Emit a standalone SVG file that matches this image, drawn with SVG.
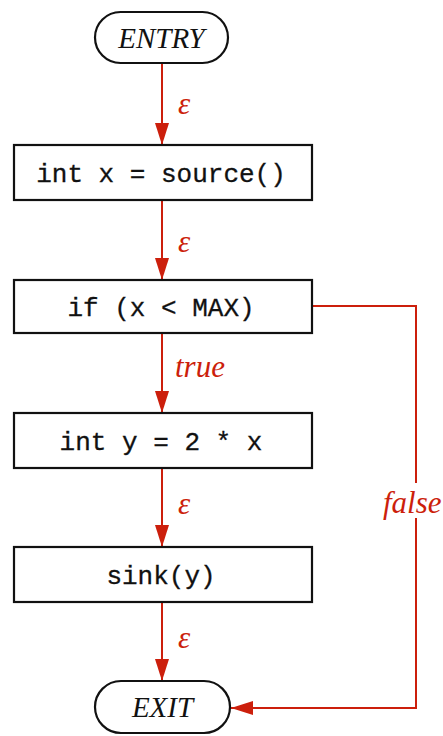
<svg xmlns="http://www.w3.org/2000/svg" width="443" height="736" viewBox="0 0 443 736">
  <style>
    .box { fill: #fff; stroke: #111; stroke-width: 2.2; }
    .code { font-family: "Liberation Mono", "Courier New", monospace; font-size: 26px; fill: #111; text-anchor: middle; stroke: #111; stroke-width: 0.3; }
    .term { font-family: "Liberation Serif", "Times New Roman", serif; font-style: italic; font-size: 29px; fill: #111; text-anchor: middle; }
    .edge { fill: none; stroke: #cc1f0c; stroke-width: 2; }
    .lbl { font-family: "Liberation Serif", "Times New Roman", serif; font-style: italic; font-size: 31px; fill: #cc1f0c; }
  </style>
  <defs>
    <marker id="arrow" viewBox="0 0 22 14" refX="22" refY="7" markerWidth="22" markerHeight="14" markerUnits="userSpaceOnUse" orient="auto">
      <path d="M0,0 L22,7 L0,14 Z" fill="#cc1f0c"/>
    </marker>
  </defs>

  <g id="connectors">
    <line class="edge" x1="162" y1="63" x2="162" y2="145" marker-end="url(#arrow)"/>
    <text class="lbl" x="178" y="114">ε</text>
    <line class="edge" x1="162" y1="200" x2="162" y2="280" marker-end="url(#arrow)"/>
    <text class="lbl" x="178" y="252">ε</text>
    <line class="edge" x1="162" y1="333" x2="162" y2="413" marker-end="url(#arrow)"/>
    <text class="lbl" x="175" y="377">true</text>
    <line class="edge" x1="162" y1="468" x2="162" y2="547" marker-end="url(#arrow)"/>
    <text class="lbl" x="178" y="514">ε</text>
    <line class="edge" x1="162" y1="602" x2="162" y2="681" marker-end="url(#arrow)"/>
    <text class="lbl" x="178" y="648">ε</text>
    <!-- false branch: around the right side to EXIT -->
    <polyline class="edge" points="312,306 416,306 416,483"/>
    <polyline class="edge" points="416,518 416,708 231,708" marker-end="url(#arrow)"/>
    <text class="lbl" x="383" y="513">false</text>
  </g>

  <g id="entry">
    <rect class="box" x="95" y="12" width="133" height="51" rx="25.5" ry="25.5"/>
    <text class="term" x="161.5" y="48">ENTRY</text>
  </g>
  <g id="n1">
    <rect class="box" x="14" y="145" width="298" height="55"/>
    <text class="code" x="161" y="182">int x = source()</text>
  </g>
  <g id="n2">
    <rect class="box" x="14" y="280" width="298" height="53"/>
    <text class="code" x="161" y="316">if (x &lt; MAX)</text>
  </g>
  <g id="n3">
    <rect class="box" x="14" y="413" width="298" height="55"/>
    <text class="code" x="161" y="450">int y = 2 * x</text>
  </g>
  <g id="n4">
    <rect class="box" x="14" y="547" width="298" height="55"/>
    <text class="code" x="161" y="584">sink(y)</text>
  </g>
  <g id="exit">
    <rect class="box" x="95" y="681" width="135" height="52" rx="26" ry="26"/>
    <text class="term" x="162.5" y="717">EXIT</text>
  </g>
</svg>
